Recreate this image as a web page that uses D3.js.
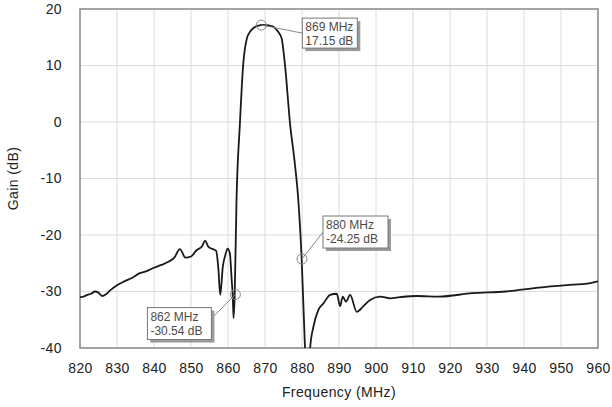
<!DOCTYPE html>
<html>
<head>
<meta charset="utf-8">
<script src="https://cdn.jsdelivr.net/npm/d3@7"></script>
<style>
  html, body { margin: 0; padding: 0; background: #fff; }
  svg { display: block; }
  svg text { font-family: "Liberation Sans", Arial, sans-serif; }
</style>
</head>
<body>
<svg id="chart" width="612" height="407"></svg>
<script>
// ---- data ----
const freqMHz = [820, 821, 822, 823, 824, 825, 826, 827, 828, 830, 832, 834, 836, 838, 840, 842, 844, 845.5, 847, 848.5, 850, 851.5, 853, 853.8, 854.7, 856.8, 857.4, 857.9, 858.6, 859.3, 859.9, 860.5, 861.0, 861.3, 861.5, 861.8, 862.3, 863.2, 864.1, 865.1, 866, 866.8, 868, 869.5, 871, 872.2, 873.5, 874.5, 875.4, 876.8, 878, 879, 879.9, 880.8, 881.2, 881.8, 882.2, 883.1, 884.4, 885.8, 887.6, 889.4, 890.3, 891.0, 891.9, 893, 894.8, 896.6, 898.4, 901.1, 903.8, 906.5, 911, 917, 926, 935, 944, 953, 957, 960];
const gainDb  = [-31.0, -30.9, -30.6, -30.4, -30.0, -30.2, -30.8, -30.5, -29.9, -28.9, -28.2, -27.6, -26.8, -26.4, -25.8, -25.3, -24.7, -24.0, -22.5, -24.0, -23.8, -22.7, -22.0, -21.0, -22.1, -22.8, -26.0, -30.6, -25.6, -23.5, -22.4, -23.2, -28.0, -31.0, -34.7, -30.9, -13.8, -0.5, 10.1, 14.8, 16.0, 16.6, 17.0, 17.2, 17.1, 16.9, 16.0, 14.8, 10.1, -0.5, -7.0, -13.8, -24.1, -39.8, -45, -45, -40.0, -36.2, -33.3, -32.1, -30.6, -30.4, -32.6, -30.9, -31.8, -30.6, -33.6, -32.6, -31.5, -30.9, -31.2, -31.0, -30.8, -30.9, -30.3, -30.0, -29.3, -28.8, -28.6, -28.2];

const xTicks = [820, 830, 840, 850, 860, 870, 880, 890, 900, 910, 920, 930, 940, 950, 960];
const yTicks = [20, 10, 0, -10, -20, -30, -40];

const markerFreq = [869, 880, 862];
const markerGain = [17.15, -24.25, -30.54];
const markerLine1 = ["869 MHz", "880 MHz", "862 MHz"];
const markerLine2 = ["17.15 dB", "-24.25 dB", "-30.54 dB"];

const xTitle = "Frequency (MHz)";
const yTitle = "Gain (dB)";

// ---- layout ----
const svg = d3.select("#chart");
const L = 80, R = 598, T = 9, B = 348;
const x = d3.scaleLinear().domain([820, 960]).range([L, R]);
const y = d3.scaleLinear().domain([-40, 20]).range([B, T]);

// grid
const grid = svg.append("g");
grid.selectAll("line.v").data(xTicks).join("line")
  .attr("x1", d => x(d)).attr("x2", d => x(d)).attr("y1", T).attr("y2", B)
  .attr("stroke", "#dcdcdc").attr("stroke-width", 1);
grid.selectAll("line.h").data(yTicks).join("line")
  .attr("x1", L).attr("x2", R).attr("y1", d => y(d)).attr("y2", d => y(d))
  .attr("stroke", "#dcdcdc").attr("stroke-width", 1);

// axes (labels only)
const fmt = d => String(d);
const xAxis = d3.axisBottom(x).tickValues(xTicks).tickSize(0).tickPadding(15).tickFormat(fmt);
const yAxis = d3.axisLeft(y).tickValues(yTicks).tickSize(0).tickPadding(18).tickFormat(fmt);
const gx = svg.append("g").attr("transform", `translate(0,${B})`).call(xAxis);
const gy = svg.append("g").attr("transform", `translate(${L},0)`).call(yAxis);
[gx, gy].forEach(g => {
  g.attr("font-family", null);
  g.select(".domain").remove();
  g.selectAll("text").attr("font-size", 14).attr("fill", "#222").style("letter-spacing", "0.4px");
});

// plot border
svg.append("rect").attr("x", L).attr("y", T).attr("width", R - L).attr("height", B - T)
  .attr("fill", "none").attr("stroke", "#8a8a8a").attr("stroke-width", 1.5);

// clip
svg.append("clipPath").attr("id", "clip").append("rect")
  .attr("x", L).attr("y", T).attr("width", R - L).attr("height", B - T);

const pts = freqMHz.map((f, i) => [f, gainDb[i]]);
const line = d3.line().x(d => x(d[0])).y(d => y(d[1])).curve(d3.curveMonotoneX);
svg.append("path").datum(pts).attr("clip-path", "url(#clip)")
  .attr("d", line).attr("fill", "none").attr("stroke", "#1a1a1a").attr("stroke-width", 1.8)
  .attr("stroke-linejoin", "round");

// annotations
const boxOff = [[41, -7, 55, 30], [21, -43, 65, 32], [-88, 13, 64, 32]]; // dx, dy, w, h relative to marker
const ann = svg.append("g");
markerFreq.forEach((f, i) => {
  const mx = x(f), my = y(markerGain[i]);
  const [dx, dy, w, h] = boxOff[i];
  const bx = mx + dx, by = my + dy;
  const lx = dx > 0 ? bx : bx + w;
  const ly = by + h / 2 - (i === 2 ? 5 : 0);
  ann.append("line").attr("x1", mx).attr("y1", my).attr("x2", lx).attr("y2", ly)
    .attr("stroke", "#888").attr("stroke-width", 1);
  ann.append("circle").attr("cx", mx).attr("cy", my).attr("r", 5)
    .attr("fill", "none").attr("stroke", "#888").attr("stroke-width", 1);
  ann.append("rect").attr("x", bx + 3).attr("y", by + 3).attr("width", w).attr("height", h)
    .attr("fill", "#9a9a9a");
  ann.append("rect").attr("x", bx).attr("y", by).attr("width", w).attr("height", h)
    .attr("fill", "#fff").attr("stroke", "#777").attr("stroke-width", 1);
  ann.append("text").attr("x", bx + 3).attr("y", by + 13).text(markerLine1[i])
    .attr("font-size", 12).attr("fill", "#4f4a45");
  ann.append("text").attr("x", bx + 3).attr("y", by + 27).text(markerLine2[i])
    .attr("font-size", 12).attr("fill", "#4f4a45");
});

// titles
svg.append("text").attr("x", (L + R) / 2).attr("y", 397).attr("text-anchor", "middle")
  .attr("font-size", 14).attr("fill", "#222").style("letter-spacing", "0.4px").text(xTitle);
svg.append("text").attr("transform", `translate(18,${(T + B) / 2}) rotate(-90)`)
  .attr("text-anchor", "middle").attr("font-size", 14).attr("fill", "#222")
  .style("letter-spacing", "0.4px").text(yTitle);
</script>
</body>
</html>
